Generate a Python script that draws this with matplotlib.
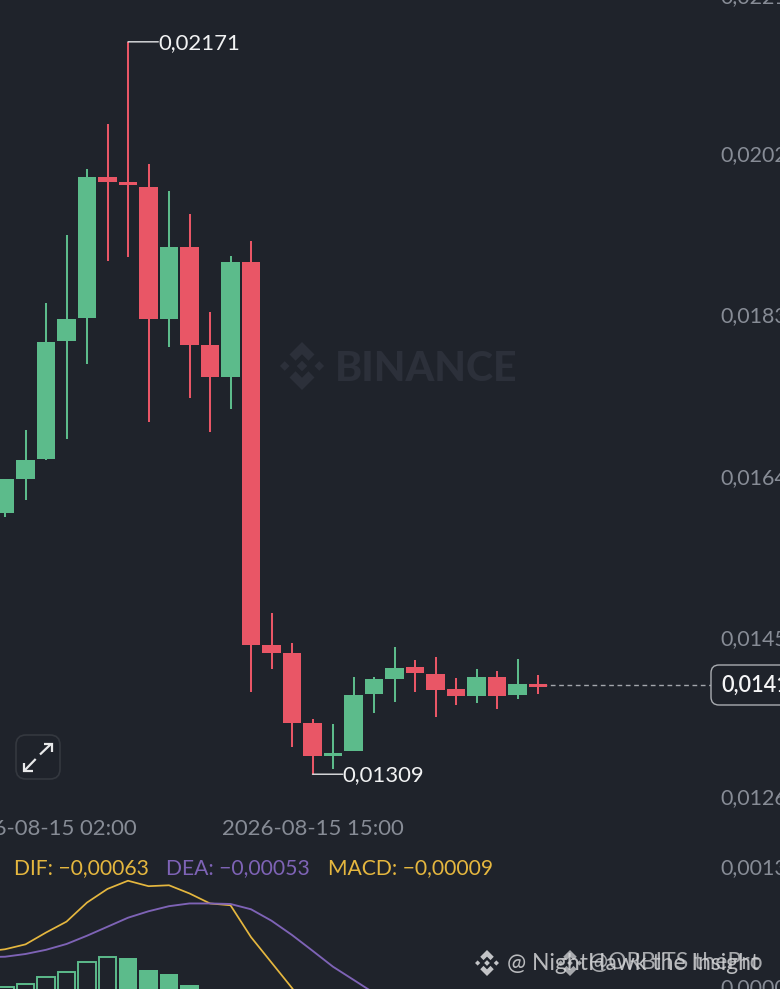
import numpy as np
import matplotlib
matplotlib.use("Agg")
import matplotlib.pyplot as plt
from matplotlib.patches import FancyBboxPatch, Polygon
from matplotlib.transforms import Affine2D

plt.rcParams['font.family'] = ['Lato', 'DejaVu Sans']

# ---- data ----
opens  = [0.01616,0.01656,0.01680,0.01819,0.01846,0.02012,0.020065,0.02000,0.018445,0.01929,0.018145,0.01777,0.01912,
          0.01461,0.014515,0.01369,0.01330,0.01336,0.01404,0.01421,0.01435,0.01427,0.01409,0.01401,0.01424,0.01402,0.01415]
highs  = [0.01656,0.01714,0.01864,0.01944,0.02021,0.02074,0.02171,0.02027,0.019955,0.019685,0.01853,0.01919,0.01937,
          0.01499,0.01464,0.01374,0.01368,0.01423,0.01423,0.01459,0.01443,0.01447,0.01422,0.01433,0.01431,0.01445,0.01426]
lows   = [0.01612,0.01632,0.01679,0.017035,0.01792,0.019135,0.01918,0.01723,0.01812,0.01752,0.01712,0.01739,0.01406,
          0.01433,0.01341,0.01309,0.01315,0.01336,0.01381,0.01394,0.01406,0.013765,0.01390,0.01393,0.01386,0.01398,0.01404]
closes = [0.01656,0.01679,0.01818,0.01845,0.02012,0.020065,0.02002,0.018445,0.01930,0.018145,0.01777,0.01912,0.01461,
          0.01452,0.01369,0.01331,0.013345,0.01402,0.014205,0.014335,0.01428,0.01408,0.01401,0.01424,0.01401,0.01415,0.01412]
last_price = 0.01414
high_label, low_label = "0,02171", "0,01309"
high_idx, low_idx = 6, 15

time_ticks = [2, 15]
time_labels = ["2026-08-15 02:00", "2026-08-15 15:00"]
price_ticks = [0.02226, 0.02040, 0.01850, 0.016594, 0.01470, 0.01283]
price_labels = ["0,02211", "0,02023", "0,01835", "0,01647", "0,01459", "0,01269"]

macd_ticks = [0.00134, 0.00002]
macd_labels = ["0,00134", "0,00000"]
dif = [40,42.6,48,61,73,94,109,118,112,113,104,93,91,56,28,0,-30]            # x1e-5, from candle -1
dea = [34,34.4,37.4,42,48.4,57.5,67.4,77.3,84.4,90,93,93,92.4,86.6,74,58.3,41,23.4,9,-5.5]
hist = [1.4,4.1,12.1,17.6,28.9,33.7,32.7,20,15.4,3.3]
hist_rising = 6   # first candles drawn hollow

# ---- style ----
W, H = 780, 989
BG = "#1F232B"
GREEN, RED = "#5CBB8B", "#E95666"
GREY = "#878C96"
YEL, PUR = "#E5B73F", "#7E63B6"
STEP = 20.5
X0 = 5.0
FS = 15.9
FS_LEG = 15.25

fig = plt.figure(figsize=(W/100, H/100), dpi=100, facecolor=BG)
px = Affine2D().scale(1/W, -1/H).translate(0, 1) + fig.transFigure

def add_axes_px(top, bottom):
    return fig.add_axes([0, 1-bottom/H, 1, (bottom-top)/H])

xlim = (-X0/STEP, (W-X0)/STEP)

# ---- price panel ----
ax = add_axes_px(-10, 815)
ax.set_facecolor(BG)
ax.set_xlim(*xlim)
ax.set_ylim(0.01261, 0.02232)
for s in ax.spines.values():
    s.set_visible(False)

o, h, l, c = map(np.array, (opens, highs, lows, closes))
idx = np.arange(len(o))
col = [GREEN if ci >= oi else RED for oi, ci in zip(o, c)]
ax.vlines(idx, l, h, colors=col, linewidth=1.45, zorder=2)
ax.bar(idx, np.abs(c-o), bottom=np.minimum(o, c), width=0.92, color=col, linewidth=0, zorder=3)

ax.set_xticks(time_ticks)
ax.set_xticklabels(time_labels)
ax.set_yticks(price_ticks)
ax.set_yticklabels(price_labels)
ax.yaxis.tick_right()
ax.tick_params(axis='x', length=0, pad=3.2, labelsize=FS, labelcolor=GREY)
ax.tick_params(axis='y', length=0, pad=-42.8, labelsize=15.4, labelcolor=GREY)
for t in ax.get_yticklabels():
    t.set_ha('left')

for i, val, lab, dy in [(high_idx, highs[high_idx], high_label, -0.7), (low_idx, lows[low_idx], low_label, -0.9)]:
    ax.annotate('', xy=(i, val), xytext=(21.8, 0), textcoords='offset points', zorder=5,
                arrowprops=dict(arrowstyle='-', color="#E4E5E7", lw=1.0, shrinkA=0, shrinkB=0))
    ax.annotate(lab, xy=(i, val), xytext=(21.8, dy), textcoords='offset points', color="#F1F2F3",
                fontsize=FS, va='center', ha='left', zorder=5)

ax.plot([idx[-1]+0.2, (711-X0)/STEP], [last_price, last_price], color="#A3A6AC", lw=1.0,
        dashes=(3.4, 2.6), zorder=1)

# ---- MACD panel ----
ax2 = add_axes_px(850, 989)
ax2.patch.set_alpha(0)
ax2.set_xlim(*xlim)
ax2.set_ylim(-1.1, 151.8)
for s in ax2.spines.values():
    s.set_visible(False)
ax2.plot(np.arange(len(dif))-1, dif, color=YEL, lw=1.25, zorder=3)
ax2.plot(np.arange(len(dea))-1, dea, color=PUR, lw=1.35, zorder=4)
floor = -8
for i, v in enumerate(hist):
    if i < hist_rising:
        ax2.bar(i, v-floor, bottom=floor, width=0.86, facecolor='none', edgecolor=GREEN, linewidth=1.4, zorder=2)
    else:
        ax2.bar(i, v-floor, bottom=floor, width=0.92, color=GREEN, linewidth=0, zorder=2)
ax2.set_xticks([])
ax2.set_yticks([v*1e5 for v in macd_ticks])
ax2.set_yticklabels(macd_labels)
ax2.yaxis.tick_right()
ax2.tick_params(axis='y', length=0, pad=-42.8, labelsize=15.4, labelcolor=GREY)
for t in ax2.get_yticklabels():
    t.set_ha('left')

# ---- overlays in pixel space ----
def ptext(x, y, s, color, size=FS, **kw):
    return fig.text(x, y, s, transform=px, color=color, fontsize=size, va='center', ha='left', **kw)

ptext(14, 868, "DIF: \u22120,00063", YEL, size=FS_LEG)
ptext(166, 868, "DEA: \u22120,00053", PUR, size=FS_LEG)
ptext(328, 868, "MACD: \u22120,00009", YEL, size=FS_LEG)

# current price pill
fig.add_artist(FancyBboxPatch((719, 673), 100, 24, boxstyle="round,pad=8,rounding_size=8",
                              transform=px, fc=BG, ec="#A9ACB1", lw=1.0))
ptext(721, 685, "0,01414", "#F5F5F6", size=15.6, weight='semibold')

# expand button
fig.add_artist(FancyBboxPatch((26, 745), 24, 24, boxstyle="round,pad=10,rounding_size=10",
                              transform=px, fc=BG, ec="#34383F", lw=1.2))
for xs, ys in [((40, 51), (754.5, 744)), ((43.5, 51.7, 51.7), (743.7, 743.7, 752)),
               ((35.7, 25), (759, 770)), ((32.5, 24.3, 24.3), (770.7, 770.7, 762.5))]:
    fig.add_artist(plt.Line2D(xs, ys, transform=px, color="#E8E9EA", lw=1.6, solid_capstyle='butt',
                              solid_joinstyle='miter'))

# Binance logo helper
LOGO = [
    [(0,-1),(.52,-.48),(.27,-.22),(0,-.49),(-.27,-.22),(-.52,-.48)],
    [(0,1),(.52,.48),(.27,.22),(0,.49),(-.27,.22),(-.52,.48)],
    [(0,-.22),(.22,0),(0,.22),(-.22,0)],
    [(-.72,-.2),(-.52,0),(-.72,.2),(-.92,0)],
    [(.72,-.2),(.92,0),(.72,.2),(.52,0)],
]
def logo(cx, cy, r, color, alpha=1.0):
    for poly in LOGO:
        pts = [(cx+r*a, cy+r*b) for a, b in poly]
        fig.add_artist(Polygon(pts, closed=True, transform=px, fc=color, ec='none', alpha=alpha))

logo(302, 366, 24, "#2C303A")
ptext(335, 369, "BINANCE", "#2C303A", size=29.5, weight='black')

WM = "#D5D6D8"
logo(487, 963, 13, WM, 0.9)
ptext(507, 963, "@ NightHawk the Insight", WM, size=16.5, alpha=0.85)
logo(570, 963, 13, WM, 0.75)
ptext(589, 963, "@ORBITS thePro", WM, size=16.5, alpha=0.75)

fig.savefig("out.png", dpi=100, facecolor=BG)
